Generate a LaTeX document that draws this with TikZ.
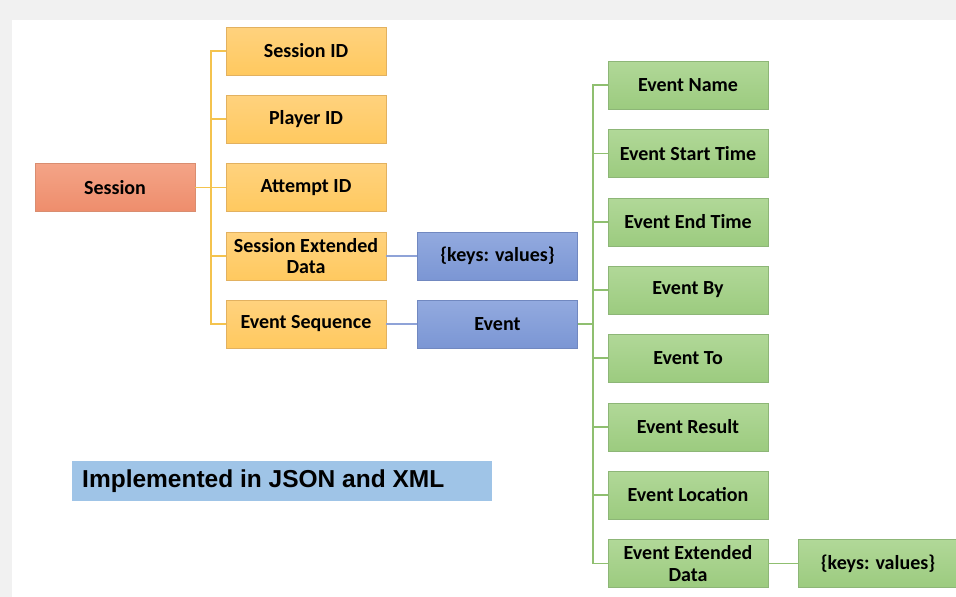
\documentclass[tikz,border=0pt]{standalone}
\usepackage{fontspec}
\setmainfont{Carlito}
\newfontfamily\arialfont{Liberation Sans}
\definecolor{bgray}{HTML}{F1F1F1}
\definecolor{orfill}{HTML}{FFD27E}
\definecolor{orfillb}{HTML}{FFC95F}
\definecolor{ordraw}{HTML}{E2B160}
\definecolor{orline}{HTML}{F4C34E}
\definecolor{safill}{HTML}{F4A487}
\definecolor{safillb}{HTML}{EE8D6C}
\definecolor{sadraw}{HTML}{D98D70}
\definecolor{blfill}{HTML}{93AADF}
\definecolor{blfillb}{HTML}{7B96D4}
\definecolor{bldraw}{HTML}{7188C0}
\definecolor{blline}{HTML}{8FA3D8}
\definecolor{grfill}{HTML}{B1D898}
\definecolor{grfillb}{HTML}{9CCB7F}
\definecolor{grdraw}{HTML}{8DB677}
\definecolor{grline}{HTML}{8FBF70}
\definecolor{implfill}{HTML}{9FC4E7}
\tikzset{
  base/.style={minimum width=160pt, minimum height=48pt, inner sep=1pt, align=center,
    font=\fontsize{20}{21.5}\selectfont\bfseries, text=black, line width=0.8pt},
  orbox/.style={base, draw=ordraw, top color=orfill, bottom color=orfillb},
  sabox/.style={base, draw=sadraw, top color=safill, bottom color=safillb},
  blbox/.style={base, draw=bldraw, top color=blfill, bottom color=blfillb},
  grbox/.style={base, draw=grdraw, top color=grfill, bottom color=grfillb},
  orcon/.style={draw=orline, line width=1.3pt},
  blcon/.style={draw=blline, line width=1.3pt},
  grcon/.style={draw=grline, line width=1.3pt},
}
\begin{document}
\begin{tikzpicture}[x=1pt,y=-1pt]
\useasboundingbox (0,0) rectangle (956,597);
\fill[bgray] (0,0) rectangle (956,597);
\fill[white] (12,20) rectangle (970,610);

\coordinate (ot) at (211,187.5);
\coordinate (gt) at (593,324);

\node[sabox] (sess) at (115,187.5) {Session};
\node[orbox] (sid) at (306,51) {Session ID};
\node[orbox] (pid) at (306,119) {Player ID};
\node[orbox] (aid) at (306,187.5) {Attempt ID};
\node[orbox] (sed) at (306,256) {Session Extended\\Data};
\node[orbox] (eseq) at (306,324) {Event Sequence};
\node[blbox] (kv1) at (497.5,256) {\{keys: values\}};
\node[blbox] (ev) at (497.5,324) {Event};

\node[grbox] (ename) at (688,85) {Event Name};
\node[grbox] (estart) at (688,153.5) {Event Start Time};
\node[grbox] (eend) at (688,222) {Event End Time};
\node[grbox] (eby) at (688,290) {Event By};
\node[grbox] (eto) at (688,358) {Event To};
\node[grbox] (eres) at (688,427) {Event Result};
\node[grbox] (eloc) at (688,495) {Event Location};
\node[grbox] (eext) at (688,563.5) {Event Extended\\Data};
\node[grbox] (kv2) at (878,563.5) {\{keys: values\}};

\node[fill=implfill, minimum width=420pt, minimum height=40pt, inner sep=0pt] (impl) at (282,481) {};
\node[anchor=west, font=\arialfont\fontsize{24.5}{26}\selectfont\bfseries, text=black, inner sep=0pt] (impltxt) at (82,481) {Implemented in JSON and XML};

\draw[orcon] (sess.east) -- (ot);
\foreach \n in {sid,pid,aid,sed,eseq} \draw[orcon] (ot) |- (\n.west);
\draw[blcon] (sed.east) -- (kv1.west);
\draw[blcon] (eseq.east) -- (ev.west);
\draw[grcon] (ev.east) -- (gt);
\foreach \n in {ename,estart,eend,eby,eto,eres,eloc,eext} \draw[grcon] (gt) |- (\n.west);
\draw[grcon] (eext.east) -- (kv2.west);
\end{tikzpicture}
\end{document}
